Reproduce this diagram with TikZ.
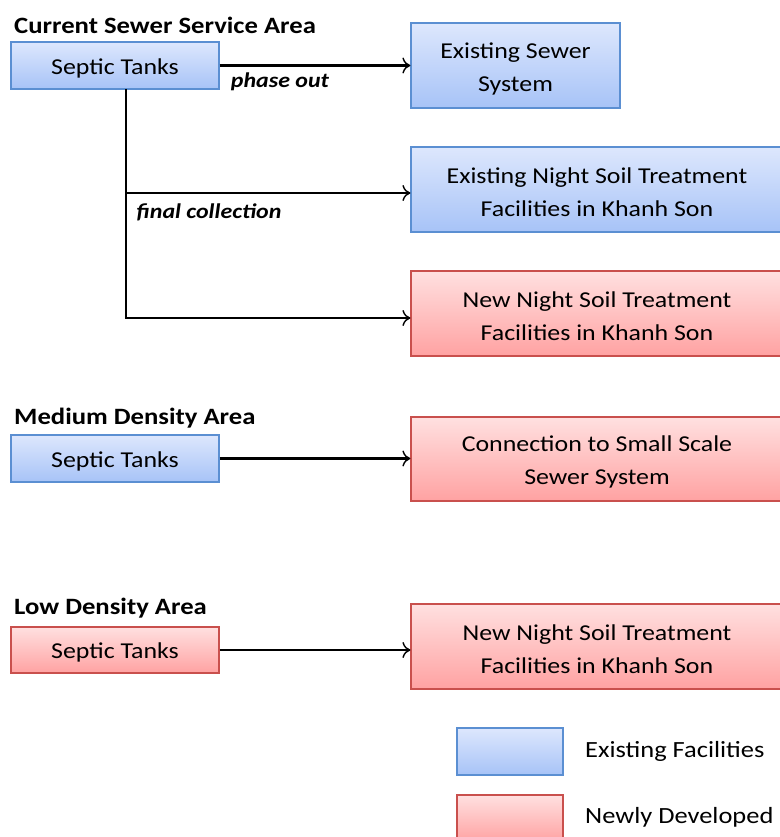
\documentclass[tikz,border=0pt]{standalone}
\usepackage{fontspec}
\setmainfont{Carlito}[FakeStretch=1.14]
\usetikzlibrary{arrows.meta}
\definecolor{bluetop}{HTML}{DDE7FD}
\definecolor{bluebot}{HTML}{A7C3F7}
\definecolor{blueedge}{HTML}{5B8FD2}
\definecolor{redtop}{HTML}{FFE0E0}
\definecolor{redbot}{HTML}{FFA2A2}
\definecolor{rededge}{HTML}{C9504D}
\tikzset{
  boxtext/.style={align=center, inner sep=0pt, font=\fontsize{22.7}{33}\selectfont},
  bluebox/.style={draw=blueedge, line width=1.2pt, top color=bluetop, bottom color=bluebot, inner sep=0pt},
  redbox/.style={draw=rededge, line width=1.2pt, top color=redtop, bottom color=redbot, inner sep=0pt},
  heading/.style={anchor=west, inner sep=0pt, font=\fontsize{23.4}{26}\selectfont\bfseries},
  flowlabel/.style={inner sep=0pt, font=\fontsize{21}{24}\selectfont\bfseries\itshape},
  legendtext/.style={anchor=west, inner sep=0pt, font=\fontsize{23.2}{26}\selectfont},
  flow/.style={line width=2.4pt, -{To[length=8pt,width=16pt,line width=1.4pt]}},
  plain/.style={line width=2.4pt}
}
\begin{document}
\begin{tikzpicture}[x=1pt,y=-1pt]
\useasboundingbox (0,0) rectangle (779,837);
% headings
\node[heading] (h1) at (14,25) {Current Sewer Service Area};
\node[heading] (h2) at (14,418) {Medium Density Area};
\node[heading] (h3) at (14,608) {Low Density Area};
% sources
\node[bluebox, minimum width=208pt, minimum height=47pt] (s1) at (115,65.5) {};
\node[bluebox, minimum width=208pt, minimum height=47pt] (s2) at (115,458.5) {};
\node[redbox, minimum width=208pt, minimum height=46pt] (s3) at (115,650) {};
% targets
\node[bluebox, minimum width=209pt, minimum height=85pt] (es) at (515.5,65.5) {};
\node[bluebox, minimum width=372pt, minimum height=85pt] (ens) at (597,189.5) {};
\node[redbox, minimum width=372pt, minimum height=85pt] (nns) at (597,313.5) {};
\node[redbox, minimum width=372pt, minimum height=84pt] (con) at (597,459) {};
\node[redbox, minimum width=372pt, minimum height=85pt] (nns2) at (597,646.5) {};
% box texts
\node[boxtext] (s1t) at ([yshift=-2.5pt]s1.center) {Septic Tanks};
\node[boxtext] (s2t) at ([yshift=-2.5pt]s2.center) {Septic Tanks};
\node[boxtext] (s3t) at ([yshift=-2.5pt]s3.center) {Septic Tanks};
\node[boxtext] (est) at ([yshift=-3pt]es.center) {Existing Sewer\\System};
\node[boxtext] (enst) at ([yshift=-3pt]ens.center) {Existing Night Soil Treatment\\Facilities in Khanh Son};
\node[boxtext] (nnst) at ([yshift=-3pt]nns.center) {New Night Soil Treatment\\Facilities in Khanh Son};
\node[boxtext] (cont) at ([yshift=-3pt]con.center) {Connection to Small Scale\\Sewer System};
\node[boxtext] (nns2t) at ([yshift=-3pt]nns2.center) {New Night Soil Treatment\\Facilities in Khanh Son};
% legend
\node[bluebox, minimum width=106pt, minimum height=47pt] (lb) at (510,751.5) {};
\node[redbox, minimum width=106pt, minimum height=47pt] (lr) at (510,818.5) {};
\node[legendtext] (lbt) at (585,751.5) {Existing Facilities};
\node[legendtext] (lrt) at (585,817.5) {Newly Developed};
% connectors
\draw[flow] (s1.east) -- (s1.east -| es.west);
\coordinate (j0) at (126,89);
\coordinate (j1) at (126,193);
\coordinate (j2) at (126,318);
\draw[plain] (j0) -- (j2);
\draw[flow] (j1) -- (j1 -| ens.west);
\draw[flow] ([xshift=-1.2pt]j2) -- (j2 -| nns.west);
\draw[flow] (s2.east) -- (s2.east -| con.west);
\draw[flow] (s3.east) -- (s3.east -| nns2.west);
% labels
\node[flowlabel] (po) at (280,82) {phase out};
\node[flowlabel] (fc) at (209,212) {final collection};
\end{tikzpicture}
\end{document}
